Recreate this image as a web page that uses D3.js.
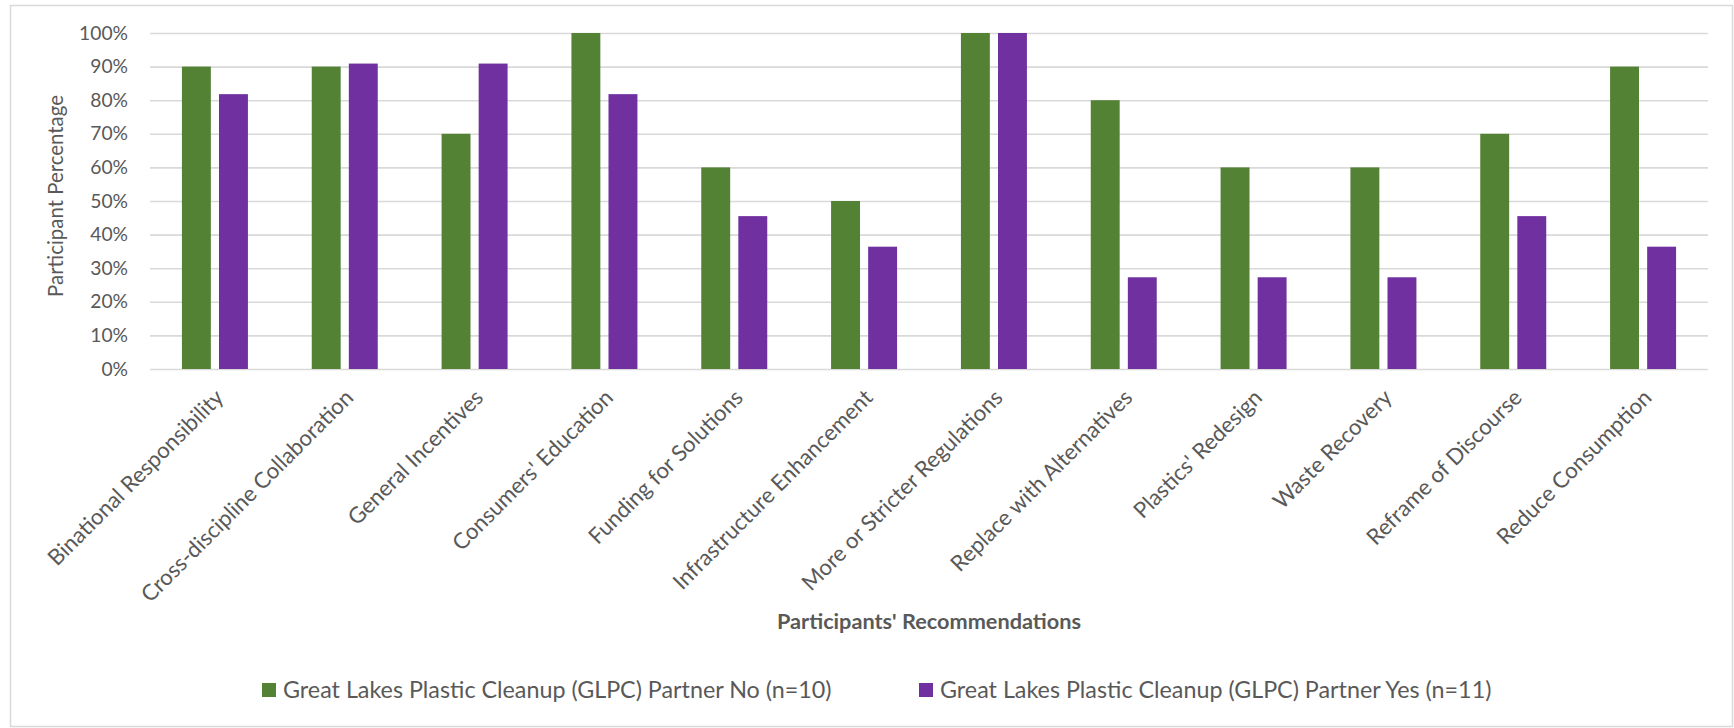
<!DOCTYPE html>
<html>
<head>
<meta charset="utf-8">
<script src="https://cdn.jsdelivr.net/npm/d3@7"></script>
<style>
  html, body { margin: 0; padding: 0; background: #fff; }
  svg { display: block; }
  text { font-family: Lato, "Open Sans", "Liberation Sans", sans-serif; fill: #595959; }
</style>
</head>
<body>
<svg id="chart" width="1734" height="728"></svg>
<script>
// Recommendations made by participants, split by GLPC partnership
const categories = [
  "Binational Responsibility",
  "Cross-discipline Collaboration",
  "General Incentives",
  "Consumers' Education",
  "Funding for Solutions",
  "Infrastructure Enhancement",
  "More or Stricter Regulations",
  "Replace with Alternatives",
  "Plastics' Redesign",
  "Waste Recovery",
  "Reframe of Discourse",
  "Reduce Consumption"
];
const seriesNames = [
  "Great Lakes Plastic Cleanup (GLPC) Partner No (n=10)",
  "Great Lakes Plastic Cleanup (GLPC) Partner Yes (n=11)"
];
// share of participants (No: out of 10, Yes: out of 11)
const partnerNo  = [0.90, 0.90, 0.70, 1.00, 0.60, 0.50, 1.00, 0.80, 0.60, 0.60, 0.70, 0.90];
const partnerYes = [0.818, 0.909, 0.909, 0.818, 0.455, 0.364, 1.00, 0.273, 0.273, 0.273, 0.455, 0.364];
const yTicks = [0, 0.1, 0.2, 0.3, 0.4, 0.5, 0.6, 0.7, 0.8, 0.9, 1.0];
const colors = ["#548235", "#7030A0"];
const yTitle = "Participant Percentage";
const xTitle = "Participants' Recommendations";

const svg = d3.select("#chart");
const plot = { left: 150, right: 1708, top: 33, bottom: 369 };

// outer chart frame
svg.append("rect")
  .attr("x", 10.5).attr("y", 5.5)
  .attr("width", 1722).attr("height", 721)
  .attr("fill", "#fff").attr("stroke", "#d9d9d9").attr("stroke-width", 1.5);

const x = d3.scaleBand().domain(categories).range([plot.left, plot.right]).padding(0);
const groupW = 66;
const xInner = d3.scaleBand().domain(seriesNames)
  .range([(x.bandwidth() - groupW) / 2, (x.bandwidth() + groupW) / 2])
  .paddingInner(0.22);
const y = d3.scaleLinear().domain([0, 1]).range([plot.bottom, plot.top]);

// scale a text node's font size so its width reaches a target
function fitWidth(sel, baseSize, target) {
  sel.style("font-size", baseSize + "px");
  const w = sel.node().getComputedTextLength();
  const size = baseSize * target / w;
  sel.style("font-size", size + "px");
  return size;
}

// horizontal gridlines and percentage labels
const yAxis = d3.axisLeft(y).tickValues(yTicks).tickFormat(d3.format(".0%"))
  .tickSize(-(plot.right - plot.left)).tickPadding(22);
const gy = svg.append("g").attr("transform", `translate(${plot.left},0)`).call(yAxis);
gy.select(".domain").remove();
gy.selectAll(".tick line").attr("stroke", "#d9d9d9").attr("stroke-width", 1.6);
const probe = gy.selectAll(".tick text").filter(d => d === 1);
const tickSize = fitWidth(probe, 20, 49);
gy.selectAll(".tick text").style("font-size", tickSize + "px").attr("fill", "#595959")
  .attr("font-family", null);

// bars
const rows = categories.map((c, i) => ({ cat: c, vals: [partnerNo[i], partnerYes[i]] }));
const groups = svg.append("g").selectAll("g").data(rows).join("g")
  .attr("transform", d => `translate(${x(d.cat)},0)`);
groups.selectAll("rect")
  .data(d => d.vals.map((v, k) => ({ name: seriesNames[k], v, k })))
  .join("rect")
  .attr("x", d => xInner(d.name))
  .attr("width", xInner.bandwidth())
  .attr("y", d => y(d.v))
  .attr("height", d => y(0) - y(d.v))
  .attr("fill", d => colors[d.k]);

// category labels, slanted
const xAxis = d3.axisBottom(x).tickSize(0).tickPadding(0);
const gx = svg.append("g").attr("transform", `translate(0,${plot.bottom})`).call(xAxis);
gx.select(".domain").remove();
const gxText = gx.selectAll(".tick text");
gxText.attr("font-family", null).attr("fill", "#595959")
  .attr("text-anchor", "end")
  .attr("dy", null).attr("y", null)
  .attr("transform", "translate(10,30) rotate(-45)");
const lastLabel = gxText.filter(d => d === "Reduce Consumption");
const catSize = fitWidth(lastLabel, 20, 208);
gxText.style("font-size", catSize + "px");

// axis titles
const yt = svg.append("text")
  .attr("text-anchor", "middle")
  .attr("transform", "translate(63,196) rotate(-90)")
  .text(yTitle);
fitWidth(yt, 20, 202);

const xt = svg.append("text")
  .attr("x", (plot.left + plot.right) / 2).attr("y", 629)
  .attr("text-anchor", "middle")
  .style("font-weight", "bold")
  .text(xTitle);
fitWidth(xt, 20, 304);

// legend
const legendX = [262, 919];
const lg = svg.append("g").selectAll("g").data(seriesNames).join("g")
  .attr("transform", (d, i) => `translate(${legendX[i]},683)`);
lg.append("rect").attr("width", 14).attr("height", 14).attr("fill", (d, i) => colors[i]);
const lt = lg.append("text").attr("x", 21).attr("y", 14.5).text(d => d);
const legSize = fitWidth(d3.select(lt.nodes()[0]), 20, 549);
lt.style("font-size", legSize + "px");
</script>
</body>
</html>
